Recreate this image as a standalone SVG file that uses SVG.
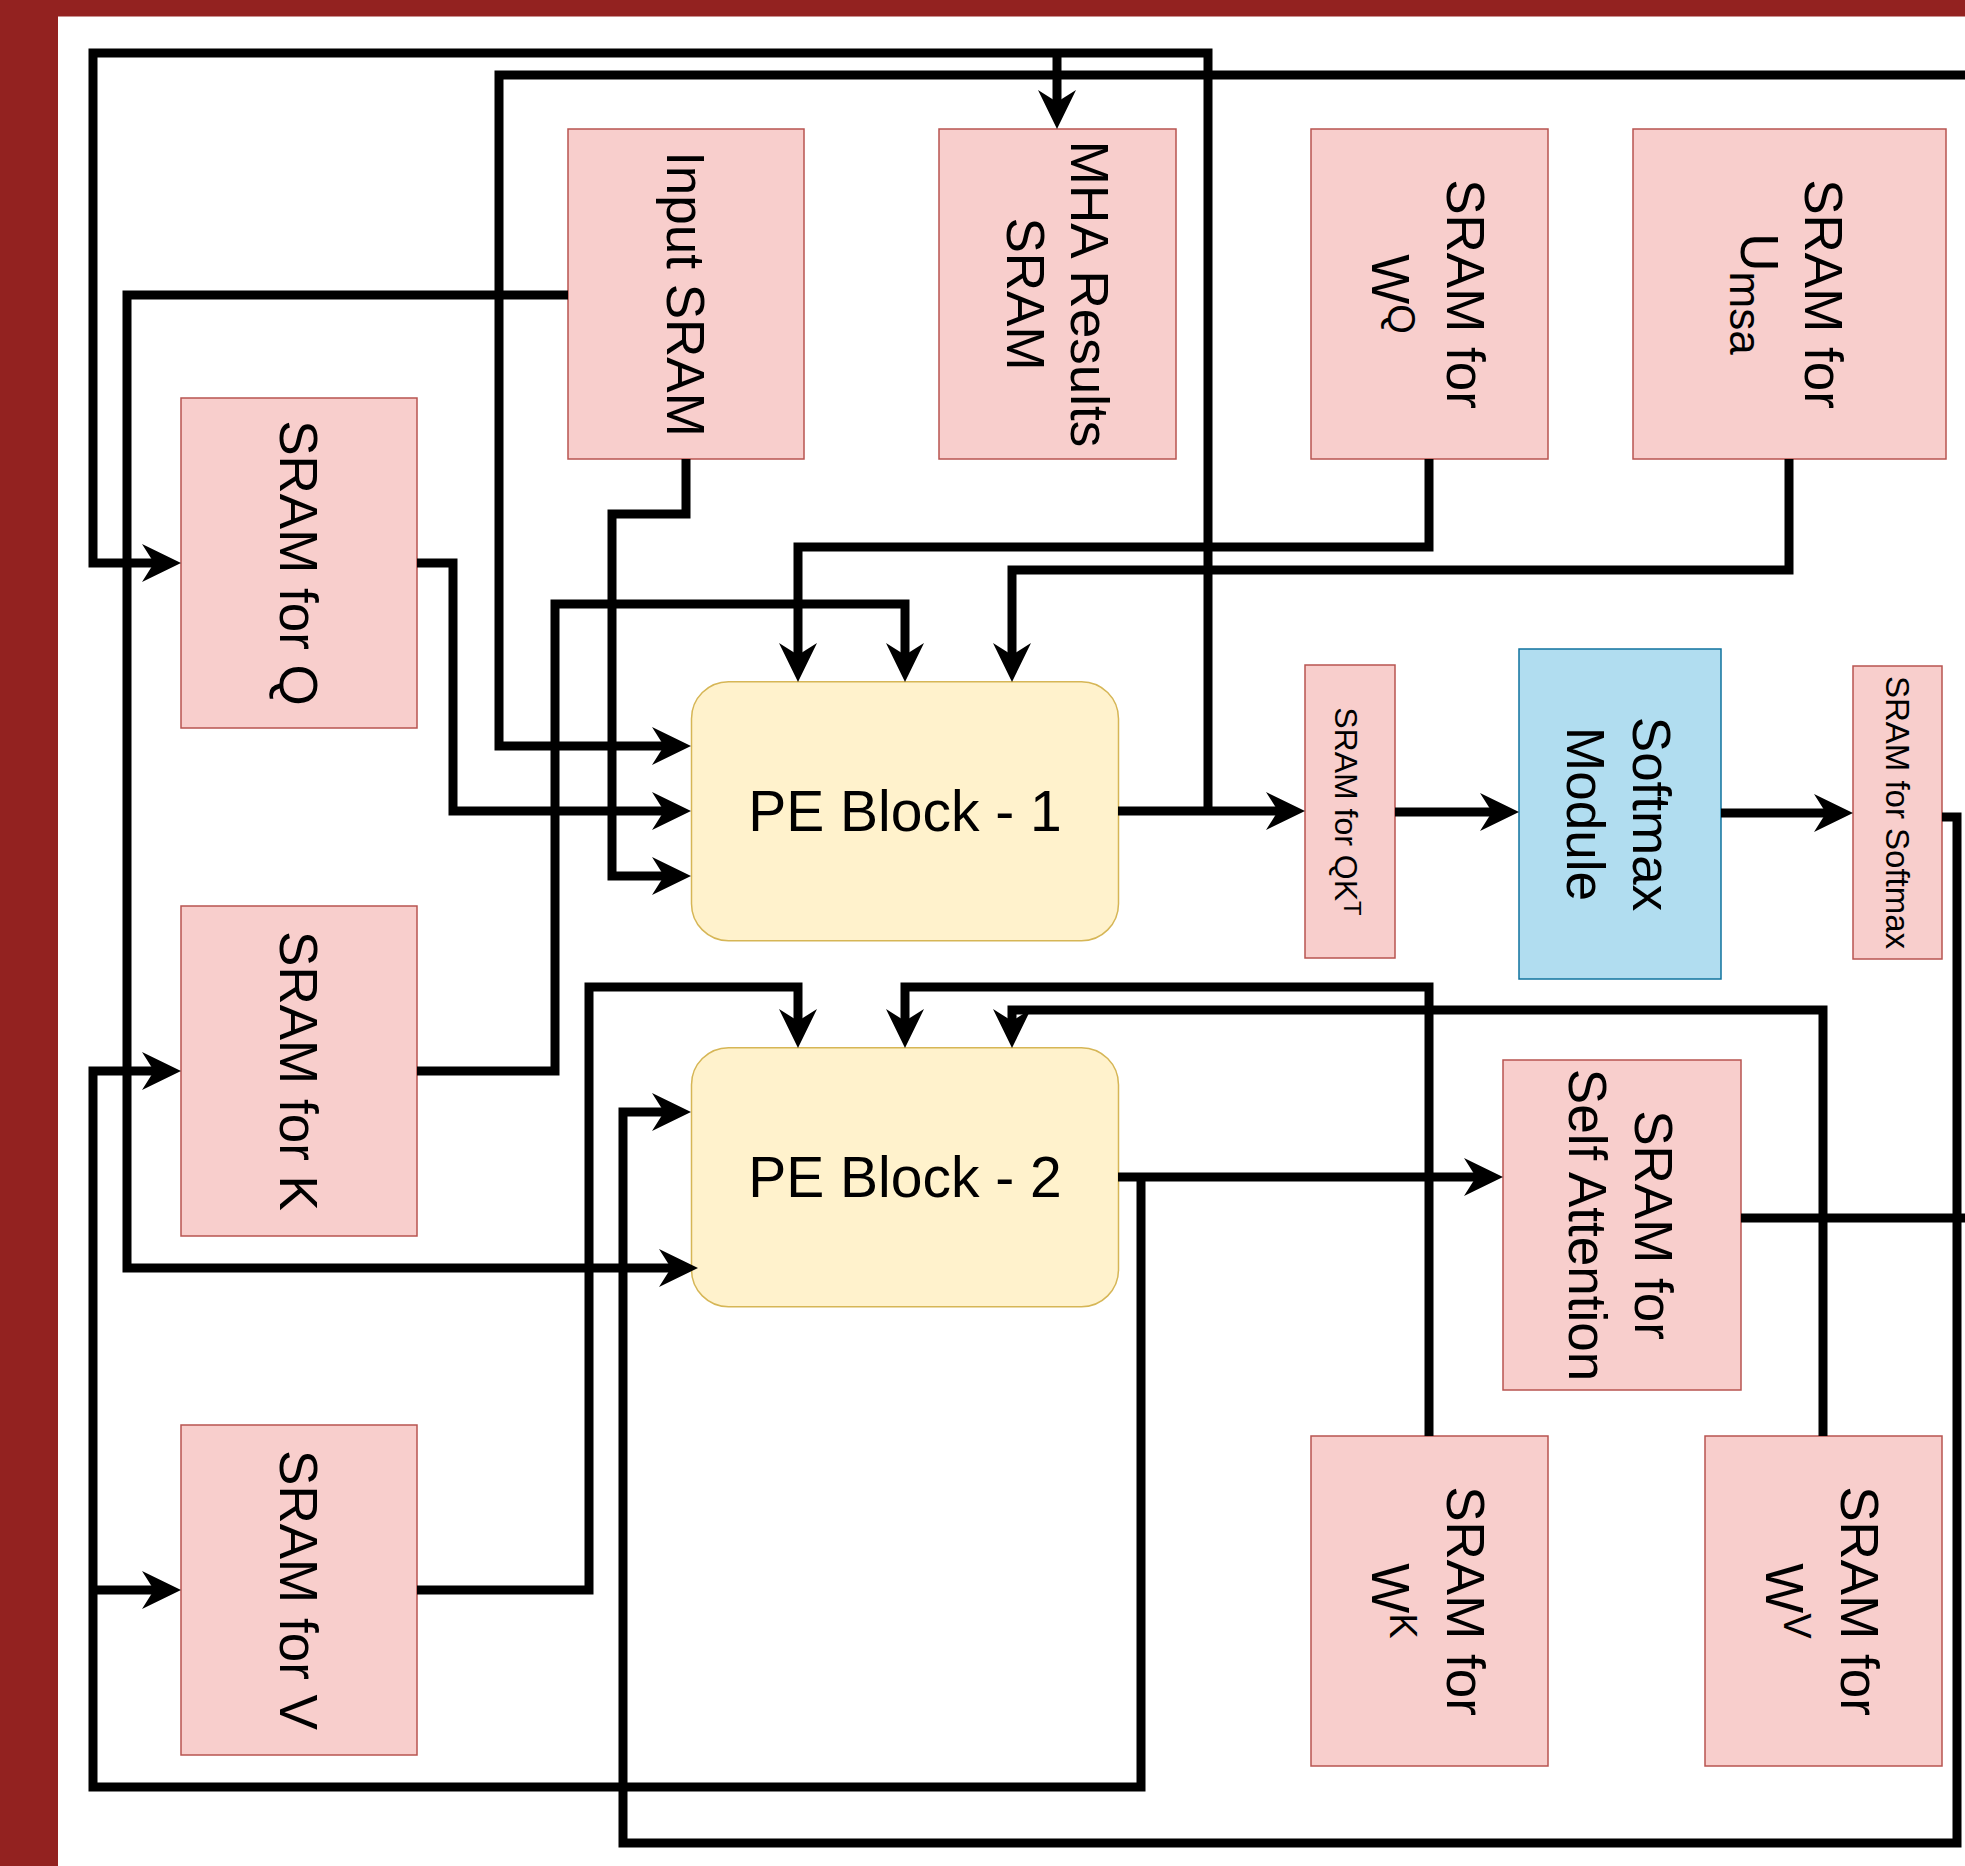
<svg xmlns="http://www.w3.org/2000/svg" width="1965" height="1866" viewBox="0 0 1965 1866">
<style>
.sram{fill:#f8cecc;stroke:#b85450;stroke-width:1.5}
.pe{fill:#fff2cc;stroke:#d6b656;stroke-width:1.5}
.soft{fill:#b1ddf0;stroke:#10739e;stroke-width:1.5}
.t{font-family:"Liberation Sans",Arial,Helvetica,sans-serif;font-size:53px;fill:#000;text-anchor:middle}
.tpe{font-family:"Liberation Sans",Arial,Helvetica,sans-serif;font-size:57px;fill:#000;text-anchor:middle}
.ts{font-family:"Liberation Sans",Arial,Helvetica,sans-serif;font-size:32px;fill:#000;text-anchor:middle}
.c{fill:none;stroke:#000;stroke-width:9;stroke-linejoin:miter;stroke-linecap:butt}
.a{marker-end:url(#ah)}
</style>
<defs>
<marker id="ah" viewBox="-20 -20 41 40" refX="0" refY="0" markerWidth="41" markerHeight="40" markerUnits="userSpaceOnUse" orient="auto">
<path d="M20,0 L-19,-19 L-7,0 L-19,19 Z" fill="#000"/>
</marker>
</defs>
<rect x="0" y="0" width="1965" height="1866" fill="#ffffff"/>
<rect x="0" y="0" width="58" height="1866" fill="#932220"/>
<rect x="0" y="0" width="1965" height="16.5" fill="#932220"/>

<g id="input-sram"><rect class="sram" x="568" y="129" width="236" height="330"/>
<text class="t" transform="translate(686,294) rotate(90)" x="0" y="19">Input SRAM</text></g>
<g id="mha-results"><rect class="sram" x="939" y="129" width="237" height="330"/>
<text class="t" transform="translate(1057.5,294) rotate(90)"><tspan x="0" y="-13">MHA Results</tspan><tspan x="0" y="51">SRAM</tspan></text></g>
<g id="sram-wq"><rect class="sram" x="1311" y="129" width="237" height="330"/>
<text class="t" transform="translate(1429.5,294) rotate(90)"><tspan x="0" y="-17">SRAM for</tspan><tspan x="0" y="58">W</tspan><tspan dy="-16" font-size="38">Q</tspan></text></g>
<g id="sram-umsa"><rect class="sram" x="1633" y="129" width="313" height="330"/>
<text class="t" transform="translate(1789.5,294) rotate(90)"><tspan x="0" y="-15">SRAM for</tspan><tspan x="0" y="49">U</tspan><tspan dy="11" font-size="44">msa</tspan></text></g>
<g id="sram-q"><rect class="sram" x="181" y="398" width="236" height="330"/>
<text class="t" transform="translate(299,563) rotate(90)" x="0" y="19">SRAM for Q</text></g>
<g id="sram-k"><rect class="sram" x="181" y="906" width="236" height="330"/>
<text class="t" transform="translate(299,1071) rotate(90)" x="0" y="19">SRAM for K</text></g>
<g id="sram-v"><rect class="sram" x="181" y="1425" width="236" height="330"/>
<text class="t" transform="translate(299,1590) rotate(90)" x="0" y="19">SRAM for V</text></g>
<g id="pe-block-1"><rect class="pe" x="691.5" y="681.7" width="427" height="259" rx="37" ry="37"/>
<text class="tpe" x="905" y="831">PE Block - 1</text></g>
<g id="pe-block-2"><rect class="pe" x="691.5" y="1047.7" width="427" height="259" rx="37" ry="37"/>
<text class="tpe" x="905" y="1197">PE Block - 2</text></g>
<g id="sram-qkt"><rect class="sram" x="1305" y="665" width="90" height="293"/>
<text class="ts" transform="translate(1350,811.5) rotate(90)" x="0" y="15">SRAM for QK<tspan dy="-9" font-size="24">T</tspan></text></g>
<g id="softmax-module"><rect class="soft" x="1519" y="649" width="202" height="330"/>
<text class="t" transform="translate(1620,814) rotate(90)"><tspan x="0" y="-13">Softmax</tspan><tspan x="0" y="53">Module</tspan></text></g>
<g id="sram-softmax"><rect class="sram" x="1853" y="666" width="89" height="293"/>
<text class="ts" style="font-size:33px" transform="translate(1897.5,812.5) rotate(90)" x="0" y="12">SRAM for Softmax</text></g>
<g id="sram-self-attention"><rect class="sram" x="1503" y="1060" width="238" height="330"/>
<text class="t" transform="translate(1622,1225) rotate(90)"><tspan x="0" y="-13">SRAM for</tspan><tspan x="0" y="53">Self Attention</tspan></text></g>
<g id="sram-wk"><rect class="sram" x="1311" y="1436" width="237" height="330"/>
<text class="t" transform="translate(1429.5,1601) rotate(90)"><tspan x="0" y="-17">SRAM for</tspan><tspan x="0" y="58">W</tspan><tspan dy="-18" font-size="38">K</tspan></text></g>
<g id="sram-wv"><rect class="sram" x="1705" y="1436" width="237" height="330"/>
<text class="t" transform="translate(1823.5,1601) rotate(90)"><tspan x="0" y="-17">SRAM for</tspan><tspan x="0" y="58">W</tspan><tspan dy="-18" font-size="38">V</tspan></text></g>

<g id="connectors">
<path class="c a" d="M1118,811 H1285"/>
<path class="c a" d="M1208,815 V53 H93 V563 H161"/>
<path class="c a" d="M1057,53 V109"/>
<path class="c a" d="M568,295 H127 V1268 H678"/>
<path class="c a" d="M686,459 V514 H612 V876 H671"/>
<path class="c a" d="M417,563 H453 V811 H671"/>
<path class="c a" d="M1965,75 H499 V746 H671"/>
<path class="c a" d="M417,1071 H555 V604 H905 V662"/>
<path class="c a" d="M1429,459 V547 H798 V662"/>
<path class="c a" d="M1789,459 V570 H1012 V662"/>
<path class="c a" d="M1395,812 H1499"/>
<path class="c a" d="M1721,813 H1833"/>
<path class="c a" d="M1942,817 H1957 V1843 H623 V1112 H671"/>
<path class="c" d="M1741,1218 H1965"/>
<path class="c a" d="M1118,1177 H1483"/>
<path class="c a" d="M1141,1177 V1787 H93 V1071 H161"/>
<path class="c a" d="M93,1590 H161"/>
<path class="c a" d="M417,1590 H589 V987 H798 V1028"/>
<path class="c a" d="M1429,1436 V987 H905 V1028"/>
<path class="c a" d="M1823,1436 V1010 H1012 V1028"/>
</g>
</svg>
